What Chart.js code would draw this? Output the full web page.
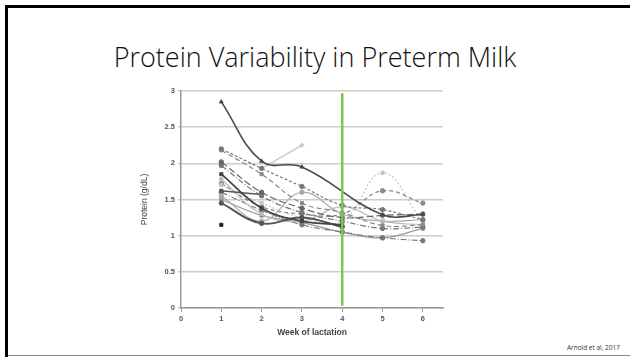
<!DOCTYPE html>
<html>
<head>
<meta charset="utf-8">
<script src="https://cdn.jsdelivr.net/npm/chart.js"></script>
<style>
	html, body{ margin:0; padding:0; background:#fff; overflow:hidden; }
	#slide{ position:relative; width:630px; height:357px; overflow:hidden; background:#fff; }
	#topbar{ position:absolute; left:5px; top:5px; width:625px; height:3px; background:#000; }
	#leftbar{ position:absolute; left:5px; top:5px; width:3px; height:352px; background:#000; }
	#bottomline{ position:absolute; left:8px; top:355px; width:622px; height:1px; background:#888; }
	#title{ position:absolute; left:0; top:38px; width:630px; text-align:center; line-height:normal;
		font-family:"Open Sans", sans-serif; font-weight:300; font-size:27px; color:#111; white-space:nowrap; }
	#cite{ position:absolute; right:10px; top:343px; font-family:"Open Sans", sans-serif; font-size:6.5px; color:#333; }
	#wrap{ position:absolute; left:138px; top:85px; width:310px; height:255px; }
</style>
</head>
<body>
<div id="slide">
	<div id="topbar"></div>
	<div id="leftbar"></div>
	<div id="bottomline"></div>
	<div id="title">Protein Variability in Preterm Milk</div>
	<div id="cite">Arnold et al, 2017</div>
	<div id="wrap"><canvas id="myChart"></canvas></div>
</div>
<script>
const weeks = [1, 2, 3, 4, 5, 6]
const yTicks = [0, 0.5, 1, 1.5, 2, 2.5, 3]

// one array per infant, null = no sample that week
const s1 = [2.85, 2.03, 1.95, null, 1.29, 1.29]
const s2 = [2.2, 1.93, 1.68, 1.42, 1.36, 1.22]
const s3 = [2.18, 1.85, 1.45, 1.32, 1.14, 1.15]
const s4 = [2.02, 1.6, 1.38, 1.25, 1.28, 1.3]
const s5 = [1.97, 1.55, 1.32, 1.2, 1.1, 1.12]
const s6 = [null, 1.93, 2.25, null, null, null]
const s7 = [1.85, 1.38, 1.2, 1.15, null, null]
const s8 = [1.45, 1.17, 1.25, 1.12, null, null]
const s9 = [1.62, 1.57, null, null, null, null]
const s10 = [1.78, 1.3, 1.2, 1.4, 1.2, 1.15]
const s11 = [1.55, 1.2, 1.6, 1.3, 1.2, 1.22]
const s12 = [1.7, 1.45, 1.25, 1.2, 1.87, 1.18]
const s13 = [1.72, 1.4, 1.3, 1.3, 1.62, 1.45]
const s14 = [1.15, null, null, null, null, null]
const s15 = [1.6, 1.35, 1.15, 1.05, 0.97, 0.93]
const s16 = [1.5, 1.28, 1.18, 1.05, 0.97, 1.1]

const markerWeek = 4

const styles = [
	[s1, '#4a4a4a', [], 'triangle', 1.6],
	[s2, '#777', [3, 2], 'circle', 1.2],
	[s3, '#888', [5, 3], 'rect', 1.2],
	[s4, '#666', [7, 3], 'circle', 1.2],
	[s5, '#777', [6, 2, 1, 2], 'circle', 1.2],
	[s6, '#ccc', [], 'rectRot', 1.5],
	[s7, '#444', [], 'rect', 1.8],
	[s8, '#555', [], 'circle', 2],
	[s9, '#555', [], 'rect', 1.5],
	[s10, '#bbb', [], 'rect', 1.2],
	[s11, '#aaa', [], 'circle', 1.2],
	[s12, '#c4c4c4', [2, 2], 'rect', 1.2],
	[s13, '#888', [4, 3], 'circle', 1.3],
	[s14, '#222', [], 'rect', 1],
	[s15, '#777', [6, 2, 1, 2], 'circle', 1.1],
	[s16, '#999', [], 'circle', 1.3],
]

let datasets = [{
	data: [{x: markerWeek, y: 0.03}, {x: markerWeek, y: 2.97}],
	borderColor: '#7dc93e',
	borderWidth: 2.5,
	pointRadius: 0,
	tension: 0
}]
for(let i = 0; i < styles.length; i++){
	const st = styles[i]
	datasets.push({
		data: weeks.map((w, j) => ({x: w, y: st[0][j]})),
		borderColor: st[1],
		backgroundColor: st[1],
		borderDash: st[2],
		pointStyle: st[3],
		borderWidth: st[4],
		pointRadius: 2.2,
		pointBorderWidth: 1,
		tension: 0.4,
		spanGaps: true
	})
}

const tickFont = {family: 'Liberation Sans', size: 7.5, weight: 'bold'}

const config = {
	type: 'line',
	data: {datasets: datasets},
	options: {
		responsive: true,
		maintainAspectRatio: false,
		animation: false,
		layout: {padding: {top: 6, right: 0, bottom: 0, left: 0}},
		plugins: {legend: {display: false}, tooltip: {enabled: false}},
		scales: {
			x: {
				type: 'linear', min: 0, max: 6.5,
				afterFit: s => { s.height = 32; s.paddingLeft = 0; s.paddingRight = 0 },
				ticks: {stepSize: 1, includeBounds: false, color: '#555', font: tickFont, padding: 2},
				grid: {drawOnChartArea: false, drawTicks: true, tickLength: 4, color: '#999'},
				border: {color: '#999', width: 1.5},
				title: {display: true, text: 'Week of lactation', color: '#444', font: {family: 'Liberation Sans', size: 8.5, weight: 'bold'}, padding: {top: 2, bottom: 2}}
			},
			y: {
				min: 0, max: 3,
				afterFit: s => { s.width = 43; s.paddingTop = 0; s.paddingBottom = 0 },
				afterBuildTicks: s => { s.ticks = yTicks.map(v => ({value: v})) },
				ticks: {color: '#555', font: tickFont, padding: 3, callback: v => String(v)},
				grid: {color: '#ccc', lineWidth: 1.5, tickLength: 3},
				border: {color: '#999', width: 1.5},
				title: {display: true, text: 'Protein (g/dL)', color: '#444', font: {family: 'Liberation Sans', size: 8.5}, padding: {top: 2, bottom: 2}}
			}
		}
	}
}

const myChart = new Chart(document.getElementById('myChart'), config)
</script>
</body>
</html>
